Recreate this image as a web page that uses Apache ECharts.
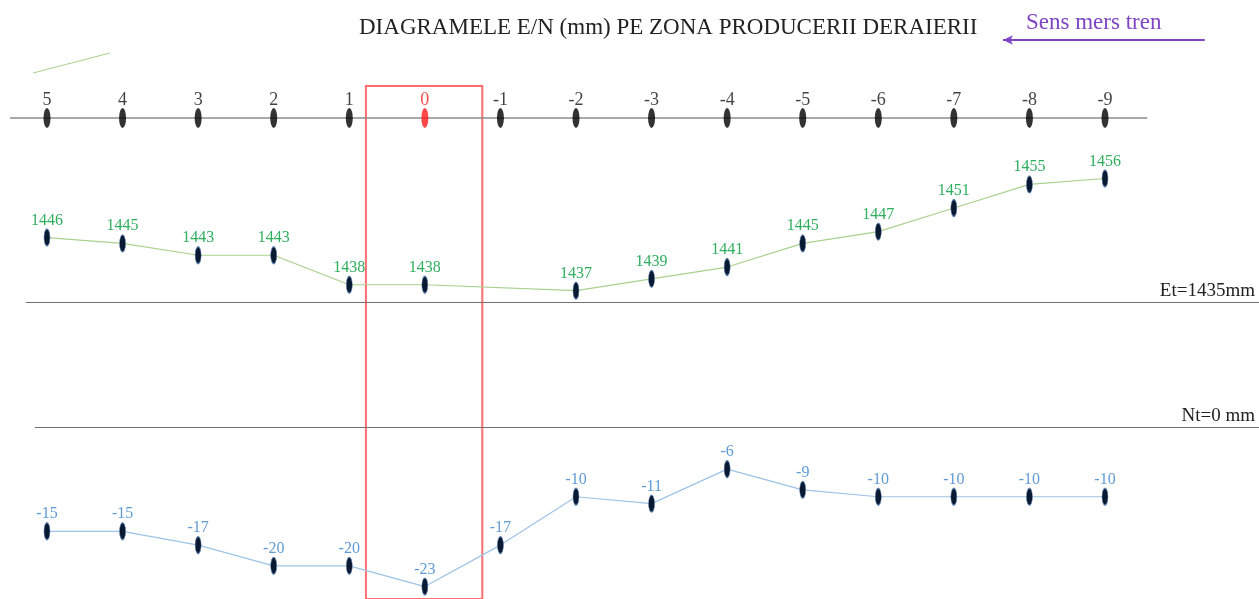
<!DOCTYPE html>
<html>
<head>
<meta charset="utf-8">
<title>Diagramele E/N</title>
<script src="https://cdn.jsdelivr.net/npm/echarts@6/dist/echarts.min.js"></script>
<style>
    html, body { margin: 0; padding: 0; background: #ffffff; }
    #chart { width: 1259px; height: 599px; }
</style>
</head>
<body>
<div id="chart"></div>
<script>
// ---- DATE (citite din schita)
var stations = ['5', '4', '3', '2', '1', '0', '-1', '-2', '-3', '-4', '-5', '-6', '-7', '-8', '-9'];
// ecartament E (mm) - lipseste la -1
var ecart = [1446, 1445, 1443, 1443, 1438, 1438, null, 1437, 1439, 1441, 1445, 1447, 1451, 1455, 1456];
// nivel transversal N (mm)
var nivel = [-15, -15, -17, -20, -20, -23, -17, -10, -11, -6, -9, -10, -10, -10, -10];
var ecartNominal = 1435;
var nivelNominal = 0;
var derailStation = '0';

var serif = '"Liberation Serif", "DejaVu Serif", serif';

function pairs(values) {
    return values.map(function (v, i) {
        return [i, v == null ? '-' : v];
    });
}

var chart = echarts.init(document.getElementById('chart'));

var option = {
    animation: false,
    backgroundColor: '#ffffff',
    title: [{
        text: 'DIAGRAMELE E/N (mm) PE ZONA PRODUCERII DERAIERII',
        left: 354,
        top: 11,
        textStyle: {
            fontFamily: serif,
            fontWeight: 'normal',
            fontSize: 23,
            color: '#222222'
        }
    }, {
        text: 'Sens mers tren',
        left: 1021,
        top: 6,
        textStyle: {
            fontFamily: serif,
            fontWeight: 'normal',
            fontSize: 23,
            color: '#7e44c4'
        }
    }],
    grid: {
        left: 0,
        right: 0,
        top: 0,
        bottom: 0
    },
    xAxis: {
        type: 'value',
        min: -0.6219,
        max: 16.0378,
        show: false
    },
    yAxis: [
        // axa pichetilor
        { type: 'value', min: -481, max: 118, show: false },
        // E
        { type: 'value', min: 1384.75, max: 1486.25, show: false },
        // N
        { type: 'value', min: -24.8, max: 61.9, show: false }
    ],
    graphic: [{
        type: 'line',
        shape: { x1: 33, y1: 73, x2: 110, y2: 53 },
        style: { stroke: '#a9d18e', lineWidth: 1 }
    }],
    series: [{
        name: 'Pichet',
        type: 'scatter',
        yAxisIndex: 0,
        z: 5,
        symbol: 'circle',
        symbolSize: [7, 20],
        data: stations.map(function (s, i) {
            var red = s === derailStation;
            return {
                value: [i, 0],
                name: s,
                itemStyle: { color: red ? '#ff1a1a' : '#000000' },
                label: { color: red ? '#ff1a1a' : '#111111' }
            };
        }),
        label: {
            show: true,
            position: 'top',
            distance: -1,
            formatter: '{b}',
            fontFamily: serif,
            fontSize: 18
        },
        markLine: {
            silent: true,
            symbol: 'none',
            label: { show: false },
            data: [
                [{ coord: [-0.49, 0], lineStyle: { color: '#8c8c8c', width: 1.5, type: 'solid' } },
                 { coord: [14.56, 0] }],
                // sageata sens mers tren
                [{ coord: [15.32, 78], symbol: 'none', lineStyle: { color: '#7e44c4', width: 2, type: 'solid' } },
                 { coord: [12.65, 78], symbol: 'arrow', symbolSize: [7, 10] }]
            ]
        },
        markArea: {
            silent: true,
            itemStyle: {
                color: 'rgba(0,0,0,0)',
                borderColor: '#ff6e6e',
                borderWidth: 2
            },
            data: [
                [{ coord: [4.22, 32] }, { coord: [5.76, -484] }]
            ]
        }
    }, {
        name: 'E',
        type: 'line',
        yAxisIndex: 1,
        z: 4,
        connectNulls: true,
        data: pairs(ecart),
        symbol: 'circle',
        symbolSize: [6, 17],
        itemStyle: {
            color: '#0b1a33',
            borderColor: '#5b7fae',
            borderWidth: 0.8
        },
        lineStyle: { color: '#a9d18e', width: 1.2 },
        label: {
            show: true,
            position: 'top',
            distance: 0,
            fontFamily: serif,
            fontSize: 16,
            color: '#2fae5e',
            formatter: function (p) { return p.value[1]; }
        },
        markLine: {
            silent: true,
            symbol: 'none',
            lineStyle: { color: '#707070', width: 1.2, type: 'solid' },
            label: {
                show: true,
                position: 'insideEndTop',
                distance: [4, 2],
                fontFamily: serif,
                fontSize: 19,
                color: '#222222',
                formatter: 'Et=' + ecartNominal + 'mm'
            },
            data: [
                [{ coord: [-0.28, ecartNominal] }, { coord: [16.0378, ecartNominal] }]
            ]
        }
    }, {
        name: 'N',
        type: 'line',
        yAxisIndex: 2,
        z: 4,
        data: pairs(nivel),
        symbol: 'circle',
        symbolSize: [6, 17],
        itemStyle: {
            color: '#0b1a33',
            borderColor: '#5b7fae',
            borderWidth: 0.8
        },
        lineStyle: { color: '#9dc3e6', width: 1.2 },
        label: {
            show: true,
            position: 'top',
            distance: 0,
            fontFamily: serif,
            fontSize: 16,
            color: '#5f9bd6',
            formatter: function (p) { return p.value[1]; }
        },
        markLine: {
            silent: true,
            symbol: 'none',
            lineStyle: { color: '#707070', width: 1.2, type: 'solid' },
            label: {
                show: true,
                position: 'insideEndTop',
                distance: [4, 2],
                fontFamily: serif,
                fontSize: 19,
                color: '#222222',
                formatter: 'Nt=' + nivelNominal + ' mm'
            },
            data: [
                [{ coord: [-0.16, nivelNominal] }, { coord: [16.0378, nivelNominal] }]
            ]
        }
    }]
};

chart.setOption(option);
</script>
</body>
</html>
